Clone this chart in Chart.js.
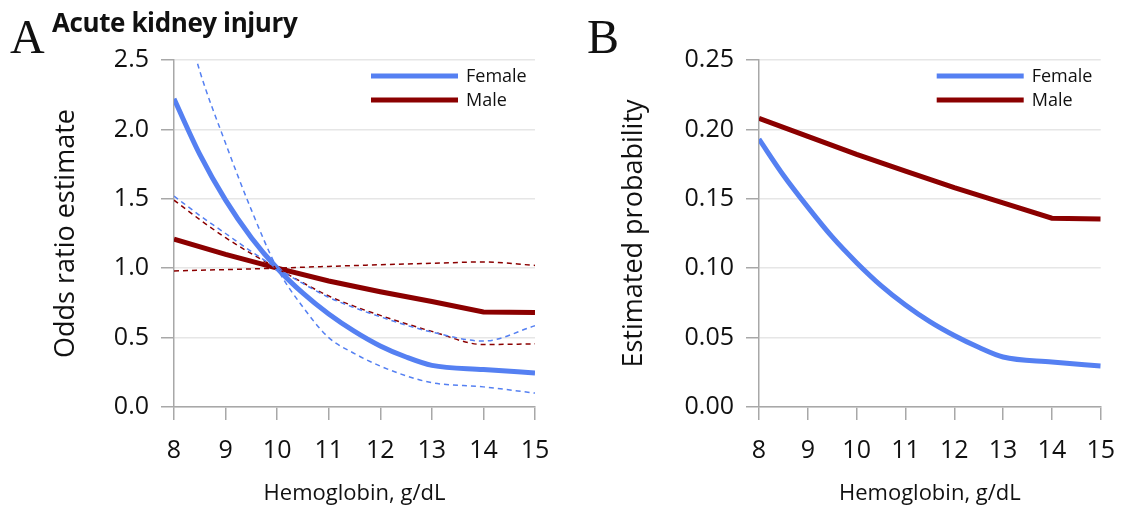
<!DOCTYPE html>
<html lang="en">
<head>
<meta charset="UTF-8">
<title>Hemoglobin and acute kidney injury</title>
<script src="https://cdn.jsdelivr.net/npm/chart.js"></script>
<style>
    body { margin: 0; background: #fff; width: 1131px; height: 512px; position: relative; overflow: hidden; }
    .panel { position: absolute; top: 0; height: 512px; }
    .letter { position: absolute; font-family: "Liberation Serif", serif; font-size: 48px; line-height: 48px; color: #111; }
    .heading { position: absolute; font-family: "Open Sans", sans-serif; font-weight: 700; font-size: 26px; line-height: 26px; color: #111; letter-spacing: -0.4px; }
</style>
</head>
<body>
    <div class="panel" style="left:0;width:566px"><canvas id="or-chart"></canvas></div>
    <div class="panel" style="left:566px;width:565px"><canvas id="prob-chart"></canvas></div>
    <div class="letter" style="left:10px;top:13px">A</div>
    <div class="heading" style="left:52px;top:9px">Acute kidney injury</div>
    <div class="letter" style="left:587px;top:13px">B</div>

<script>
    // hemoglobin (g/dL) where the curves were read
    var hgb = [8, 8.5, 9, 9.5, 10, 10.5, 11, 11.5, 12, 12.5, 13, 14, 15];
    var hgbInt = [8, 9, 10, 11, 12, 13, 14, 15];   // also the x ticks

    // panel A: odds ratio estimate (reference 10 g/dL) with confidence limits
    var femaleOR   = [2.22, 1.82, 1.49, 1.22, 1.00, 0.82, 0.67, 0.545, 0.44, 0.36, 0.30, 0.27, 0.245];
    var femaleCiA  = [3.10, 2.42, 1.90, 1.42, 1.00, 0.72, 0.50, 0.385, 0.295, 0.225, 0.175, 0.145, 0.10];
    var femaleCiB  = [1.52, 1.38, 1.25, 1.12, 1.00, 0.89, 0.79, 0.715, 0.65, 0.59, 0.54, 0.475, 0.585];
    var maleCiA    = [1.49, 1.35, 1.22, 1.105, 1.00, 0.895, 0.80, 0.725, 0.66, 0.60, 0.545, 0.45, 0.455];
    var maleCiB    = [0.98, 0.985, 0.99, 0.995, 1.00, 1.007, 1.013, 1.019, 1.025, 1.03, 1.035, 1.045, 1.02];
    var maleOR     = [1.21, 1.10, 1.00, 0.908, 0.83, 0.76, 0.685, 0.68];   // at hgbInt
    var orTicks    = [0, 0.5, 1.0, 1.5, 2.0, 2.5];

    // panel B: estimated probability
    var femaleProb = [0.193, 0.167, 0.144, 0.1225, 0.104, 0.0875, 0.0735, 0.0615, 0.0515, 0.043, 0.036, 0.0325, 0.0295];
    var maleProb   = [0.208, 0.195, 0.182, 0.170, 0.158, 0.147, 0.136, 0.1355];   // at hgbInt
    var probTicks  = [0, 0.05, 0.10, 0.15, 0.20, 0.25];

    var BLUE = '#5580f2';
    var RED = '#8b0000';
    var FONT = '"Open Sans", sans-serif';

    function pts(xs, ys) {
        return ys.map(function (y, i) { return { x: xs[i], y: y }; });
    }

    function solid(label, xs, ys, color, smooth) {
        return { label: label, data: pts(xs, ys), borderColor: color, backgroundColor: color,
                 borderWidth: 5, pointRadius: 0, tension: 0,
                 cubicInterpolationMode: smooth ? 'monotone' : 'default', legend: true };
    }
    function dashed(ys, color) {
        return { label: '', data: pts(hgb, ys), borderColor: color, borderWidth: 1.5,
                 borderDash: [5, 4], pointRadius: 0, cubicInterpolationMode: 'monotone' };
    }

    // small line legend inside the plot, top right
    var lineLegend = {
        id: 'lineLegend',
        afterDatasetsDraw: function (chart) {
            var ctx = chart.ctx, area = chart.chartArea;
            var items = chart.data.datasets.filter(function (d) { return d.legend; });
            ctx.save();
            items.forEach(function (d, i) {
                var y = area.top + 16 + i * 24;
                ctx.strokeStyle = d.borderColor;
                ctx.lineWidth = 5;
                ctx.beginPath();
                ctx.moveTo(area.right - 164, y);
                ctx.lineTo(area.right - 77, y);
                ctx.stroke();
                ctx.fillStyle = '#111';
                ctx.font = '18px ' + FONT;
                ctx.textAlign = 'left';
                ctx.textBaseline = 'middle';
                ctx.fillText(d.label, area.right - 69, y + 1);
            });
            ctx.restore();
        }
    };

    function makeChart(id, datasets, yTicks, decimals, yTitle, yWidth, yTitlePad, rightPad) {
        var ctx = document.getElementById(id).getContext('2d');
        return new Chart(ctx, {
            type: 'line',
            data: { datasets: datasets },
            plugins: [lineLegend],
            options: {
                responsive: true,
                maintainAspectRatio: false,
                animation: false,
                layout: { padding: { top: 60, right: rightPad, bottom: 0, left: 0 } },
                plugins: { legend: { display: false }, tooltip: { enabled: false } },
                scales: {
                    x: {
                        type: 'linear',
                        min: hgbInt[0],
                        max: hgbInt[hgbInt.length - 1],
                        afterBuildTicks: function (s) { s.ticks = hgbInt.map(function (v) { return { value: v }; }); },
                        afterFit: function (s) { s.height = 105; },
                        ticks: { color: '#111', font: { family: FONT, size: 25 }, padding: 16, maxRotation: 0 },
                        grid: { drawOnChartArea: false, tickLength: 13, tickColor: '#a8a8a8', lineWidth: 1.5 },
                        border: { color: '#a8a8a8', width: 1.5 },
                        title: { display: true, text: 'Hemoglobin, g/dL', color: '#111',
                                 font: { family: FONT, size: 22 }, padding: 5 }
                    },
                    y: {
                        min: yTicks[0],
                        max: yTicks[yTicks.length - 1],
                        afterBuildTicks: function (s) { s.ticks = yTicks.map(function (v) { return { value: v }; }); },
                        afterFit: function (s) { s.width = yWidth; },
                        ticks: { color: '#111', font: { family: FONT, size: 25 }, padding: 12,
                                 callback: function (v) { return v.toFixed(decimals); } },
                        grid: { color: '#e6e6e6', lineWidth: 1.5, tickLength: 13, tickColor: '#a8a8a8' },
                        border: { color: '#a8a8a8', width: 1.5 },
                        title: { display: true, text: yTitle, color: '#111',
                                 font: { family: FONT, size: 27 }, padding: yTitlePad }
                    }
                }
            }
        });
    }

    makeChart('or-chart', [
        dashed(femaleCiA, BLUE),
        dashed(femaleCiB, BLUE),
        dashed(maleCiA, RED),
        dashed(maleCiB, RED),
        solid('Female', hgb, femaleOR, BLUE, true),
        solid('Male', hgbInt, maleOR, RED, false)
    ], orTicks, 1, 'Odds ratio estimate', 174, 50, 31);

    makeChart('prob-chart', [
        solid('Female', hgb, femaleProb, BLUE, true),
        solid('Male', hgbInt, maleProb, RED, false)
    ], probTicks, 2, 'Estimated probability', 193, 52, 27);
</script>
</body>
</html>
